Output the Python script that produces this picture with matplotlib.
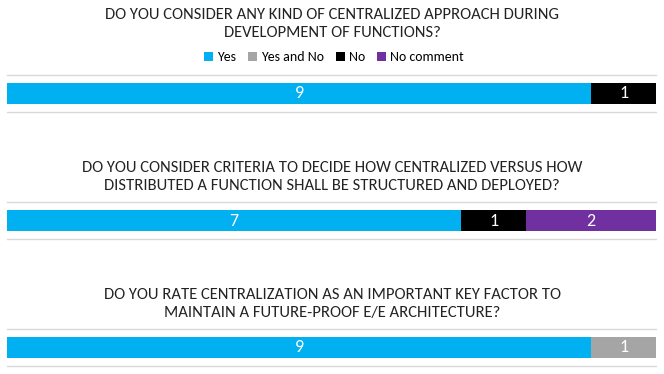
import matplotlib.pyplot as plt
from matplotlib.patches import Patch

plt.rcParams["font.family"] = ["Carlito", "DejaVu Sans"]

# answer categories and colours
categories = ["Yes", "Yes and No", "No", "No comment"]
colors = ["#00B0F0", "#A5A5A5", "#000000", "#7030A0"]

questions = [
    "DO YOU CONSIDER ANY KIND OF CENTRALIZED APPROACH DURING\nDEVELOPMENT OF FUNCTIONS?",
    "DO YOU CONSIDER CRITERIA TO DECIDE HOW CENTRALIZED VERSUS HOW\nDISTRIBUTED A FUNCTION SHALL BE STRUCTURED AND DEPLOYED?",
    "DO YOU RATE CENTRALIZATION AS AN IMPORTANT KEY FACTOR TO\nMAINTAIN A FUTURE-PROOF E/E ARCHITECTURE?",
]

# counts per question, in category order
yes = [9, 7, 9]
yes_and_no = [0, 0, 1]
no = [1, 1, 0]
no_comment = [0, 2, 0]

W, H = 664, 374
fig = plt.figure(figsize=(W / 100, H / 100), dpi=100)

# pixel layout: (title center y, axes top y, axes bottom y)
panels = [(24, 75, 112), (177, 202, 239), (304, 329, 366)]
x0, x1 = 7, 656

for i, (q, (ty, top, bot)) in enumerate(zip(questions, panels)):
    ax = fig.add_axes([x0 / W, 1 - bot / H, (x1 - x0) / W, (bot - top) / H])
    vals = [yes[i], yes_and_no[i], no[i], no_comment[i]]
    left = 0
    for v, c in zip(vals, colors):
        if v == 0:
            continue
        ax.barh(0, v, left=left, height=0.57, color=c, edgecolor="none")
        ax.text(left + v / 2, 0, str(v), color="white", ha="center", va="center",
                fontsize=13)
        left += v
    ax.set_xlim(0, sum(vals))
    ax.set_ylim(-0.5, 0.5)
    ax.set_xticks([])
    ax.set_yticks([])
    for side in ("left", "right"):
        ax.spines[side].set_visible(False)
    for side in ("top", "bottom"):
        ax.spines[side].set_color("#D9D9D9")
        ax.spines[side].set_linewidth(1.0)
    fig.text(0.5, 1 - ty / H, q, ha="center", va="center", fontsize=12,
             linespacing=1.3, color="#222222")

handles = [Patch(facecolor=c, edgecolor="none") for c in colors]
fig.legend(handles, categories, loc="center", bbox_to_anchor=(0.503, 1 - 57 / H),
           ncol=4, frameon=False, fontsize=10, handlelength=0.6, handleheight=0.6,
           handletextpad=0.3, columnspacing=0.9)

fig.savefig("out.png", dpi=100)
